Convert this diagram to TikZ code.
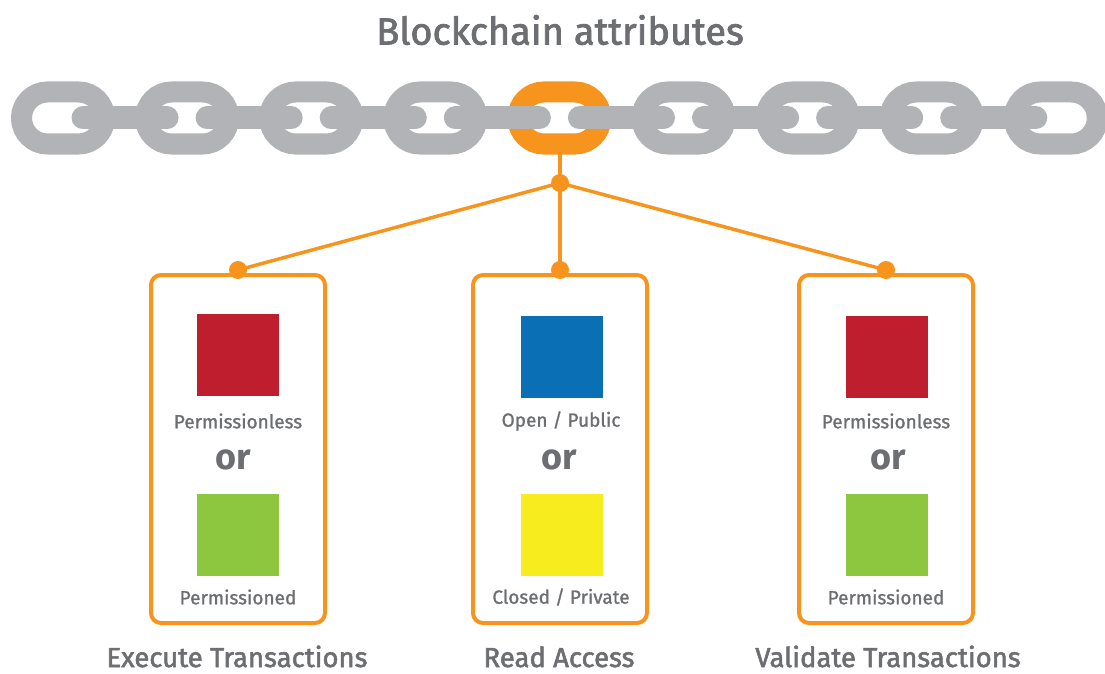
\documentclass[tikz,border=0pt]{standalone}
\usepackage{fontspec}
\setmainfont{Fira Sans}
\newfontfamily\medfont[FakeBold=1.2]{Fira Sans}
\newfontfamily\labfont[FakeBold=2]{Fira Sans}
\definecolor{chaingray}{HTML}{B1B3B6}
\definecolor{ecorange}{HTML}{F7941D}
\definecolor{ecred}{HTML}{BE1E2D}
\definecolor{ecgreen}{HTML}{8DC63F}
\definecolor{ecblue}{HTML}{0B6FB6}
\definecolor{ecyellow}{HTML}{F7EC1E}
\definecolor{txtgray}{HTML}{6D6E71}
\tikzset{
  linkshape/.style={line width=21pt, rounded corners=26pt},
  barline/.style={line width=23pt, line cap=round, draw=chaingray},
  conn/.style={draw=ecorange, line width=3.5pt},
  dotnode/.style={circle, fill=ecorange, minimum size=18pt, inner sep=0pt},
  attrbox/.style={draw=ecorange, line width=4pt, rounded corners=10pt, minimum width=174pt, minimum height=348pt, inner sep=0pt},
  sq/.style={minimum width=82pt, minimum height=82pt, inner sep=0pt},
  small/.style={text=txtgray, font=\medfont\fontsize{19}{21}\selectfont, inner sep=0pt},
  ortxt/.style={text=txtgray, font=\fontsize{36}{40}\selectfont\bfseries, inner sep=0pt},
  label/.style={text=txtgray, font=\labfont\fontsize{27.5}{30}\selectfont, inner sep=0pt, anchor=base, text depth=0pt},
}
\begin{document}
\begin{tikzpicture}[x=1pt,y=-1pt]
\useasboundingbox (0,0) rectangle (1105,674);
% title
\node[text=txtgray, font=\labfont\fontsize{38}{42}\selectfont, inner sep=0pt] (title) at (560,30) {Blockchain attributes};
% chain links
\foreach \i in {0,...,8}{
  \pgfmathsetmacro{\c}{63+124.1*\i}
  \ifnum\i=4
    \draw[linkshape, draw=ecorange] (\c-41.5,92) rectangle (\c+41.5,144);
  \else
    \draw[linkshape, draw=chaingray] (\c-41.5,92) rectangle (\c+41.5,144);
  \fi
}
\foreach \i in {0,...,7}{
  \pgfmathsetmacro{\a}{63+124.1*\i+20}
  \pgfmathsetmacro{\b}{63+124.1*(\i+1)-20}
  \draw[barline] (\a,118) -- (\b,118);
}
\coordinate (linkbot) at (560,153);
% boxes
\node[attrbox] (boxA) at (238,449) {};
\node[attrbox] (boxB) at (560,449) {};
\node[attrbox] (boxC) at (886,449) {};
% connectors
\node[dotnode] (hub) at (560,183) {};
\node[dotnode] (dA) at (238,270) {};
\node[dotnode] (dB) at (560,270) {};
\node[dotnode] (dC) at (886,270) {};
\draw[conn] (linkbot) -- (hub.center);
\draw[conn] (hub.center) -- (dA.center);
\draw[conn] (hub.center) -- (dB.center);
\draw[conn] (hub.center) -- (dC.center);
% squares
\node[sq, fill=ecred] (sqA1) at (238,355) {};
\node[sq, fill=ecgreen] (sqA2) at (238,535) {};
\node[sq, fill=ecblue] (sqB1) at (562,357) {};
\node[sq, fill=ecyellow] (sqB2) at (562,535) {};
\node[sq, fill=ecred] (sqC1) at (887,357) {};
\node[sq, fill=ecgreen] (sqC2) at (887,535) {};
% texts
\node[small] (tA1) at (238,421) {Permissionless};
\node[ortxt] (orA) at (233,460) {or};
\node[small] (tA2) at (238,597) {Permissioned};
\node[small] (tB1) at (561,421) {Open / Public};
\node[ortxt] (orB) at (559,460) {or};
\node[small] (tB2) at (561,597) {Closed / Private};
\node[small] (tC1) at (886,421) {Permissionless};
\node[ortxt] (orC) at (888,460) {or};
\node[small] (tC2) at (886,597) {Permissioned};
\node[label] (lA) at (237,667) {Execute Transactions};
\node[label] (lB) at (559,667) {Read Access};
\node[label] (lC) at (888,667) {Validate Transactions};
\end{tikzpicture}
\end{document}
